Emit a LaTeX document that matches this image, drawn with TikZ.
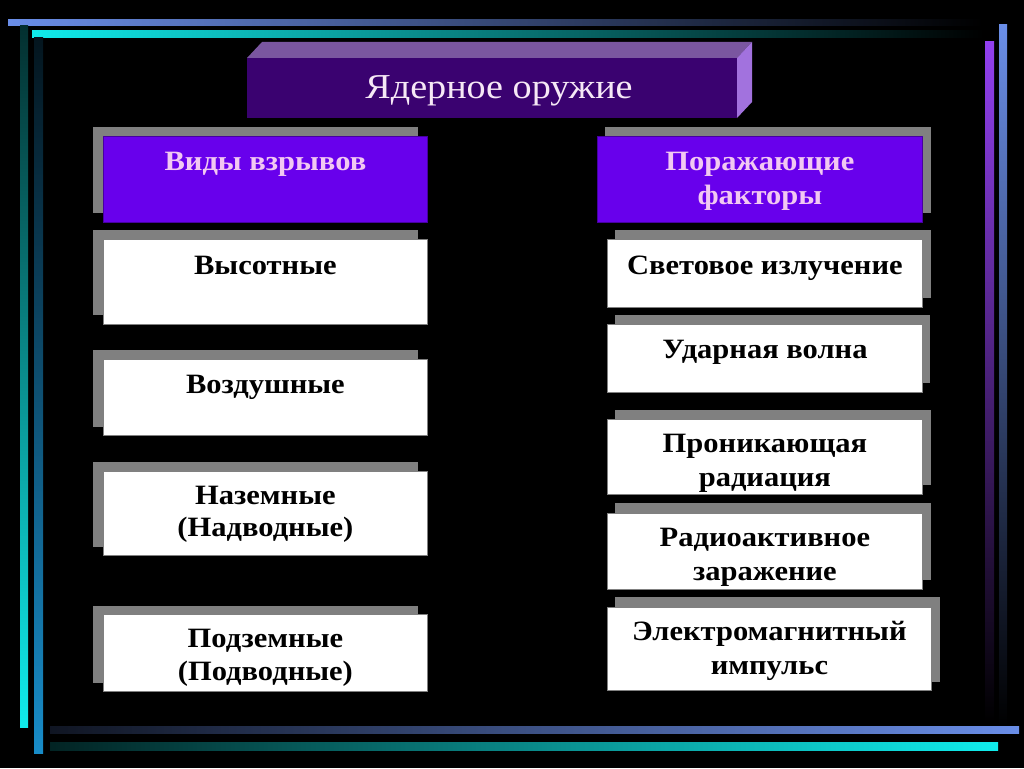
\documentclass[tikz,border=0pt]{standalone}
\usepackage{fontspec}
\setmainfont[FakeStretch=1.09]{Liberation Serif}
\definecolor{pviolet}{RGB}{104,0,236}
\definecolor{pdark}{RGB}{70,0,160}
\definecolor{shgray}{RGB}{128,128,128}
\definecolor{pinklbl}{RGB}{242,200,242}
\definecolor{hfront}{RGB}{58,2,112}
\definecolor{htop}{RGB}{122,86,160}
\definecolor{hside}{RGB}{162,114,222}
\definecolor{htext}{RGB}{246,232,246}
\definecolor{lblue}{RGB}{106,142,232}
\definecolor{lcyan}{RGB}{16,236,236}
\definecolor{mblue}{RGB}{24,140,200}
\definecolor{lpurple}{RGB}{146,64,240}
\begin{document}
\begin{tikzpicture}[x=1pt,y=-1pt,
  wbox/.style={draw=shgray, line width=0.8pt, fill=white, inner sep=0pt, anchor=north west},
  pbox/.style={draw=pdark, line width=0.8pt, fill=pviolet, inner sep=0pt, anchor=north west},
  shad/.style={fill=shgray, draw=none, inner sep=0pt, anchor=north west},
  lbl/.style={font=\fontsize{28}{33}\selectfont\bfseries, align=center, inner sep=0pt, anchor=north, text=black},
  rlbl/.style={lbl, font=\fontsize{28}{34.5}\selectfont\bfseries},
  hlbl/.style={lbl, text=pinklbl},
]
\useasboundingbox (0,0) rectangle (1024,768);
\fill[black] (0,0) rectangle (1024,768);

% frame lines
\shade[left color=lblue, right color=black] (8,20) rectangle (983,26);
\shade[left color=lcyan, right color=black] (32,31) rectangle (983,38);
\shade[top color=black!80!lcyan, bottom color=lcyan] (20,26) rectangle (28,727);
\shade[top color=black!85!mblue, bottom color=mblue] (34,38) rectangle (43,753);
\shade[top color=lpurple, bottom color=black] (985,42) rectangle (994,722);
\shade[top color=lblue, bottom color=black] (999,25) rectangle (1007,726);
\shade[left color=black!85!lblue, right color=lblue] (50,726) rectangle (1019,733);
\shade[left color=black!85!lcyan, right color=lcyan] (50,742) rectangle (998,750);

% header 3D bar
\fill[htop] (247,58) -- (262,42) -- (752,42) -- (737,58) -- cycle;
\fill[hside] (737,58) -- (752,42) -- (752,102) -- (737,118) -- cycle;
\node[fill=hfront, inner sep=0pt, anchor=north west, minimum width=490pt, minimum height=60pt] (head) at (247,58) {};
\node[font=\fontsize{35}{40}\selectfont, text=htext, anchor=base, inner sep=0pt] (headt) at (499,98) {Ядерное оружие};

% left column
\node[shad, minimum width=325pt, minimum height=86pt] (sL0) at (93,127) {};
\node[pbox, minimum width=324pt, minimum height=86pt] (L0) at (103,136) {};
\node[hlbl] (tL0) at ([yshift=-10pt]L0.north) {\rule{0pt}{24pt}Виды взрывов};

\node[shad, minimum width=325pt, minimum height=85pt] (sL1) at (93,230) {};
\node[wbox, minimum width=324pt, minimum height=85pt] (L1) at (103,239) {};
\node[lbl] (tL1) at ([yshift=-11pt]L1.north) {\rule{0pt}{24pt}Высотные};

\node[shad, minimum width=325pt, minimum height=77pt] (sL2) at (93,350) {};
\node[wbox, minimum width=324pt, minimum height=76pt] (L2) at (103,359) {};
\node[lbl] (tL2) at ([yshift=-10pt]L2.north) {\rule{0pt}{24pt}Воздушные};

\node[shad, minimum width=325pt, minimum height=85pt] (sL3) at (93,462) {};
\node[wbox, minimum width=324pt, minimum height=84pt] (L3) at (103,471) {};
\node[lbl, font=\fontsize{28}{32}\selectfont\bfseries] (tL3) at ([yshift=-9pt]L3.north) {\rule{0pt}{24pt}Наземные\\(Надводные)};

\node[shad, minimum width=325pt, minimum height=77pt] (sL4) at (93,606) {};
\node[wbox, minimum width=324pt, minimum height=77pt] (L4) at (103,614) {};
\node[lbl] (tL4) at ([yshift=-9pt]L4.north) {\rule{0pt}{24pt}Подземные\\(Подводные)};

% right column
\node[shad, minimum width=326pt, minimum height=86pt] (sR0) at (605,127) {};
\node[pbox, minimum width=325pt, minimum height=86pt] (R0) at (597,136) {};
\node[hlbl, rlbl, text=pinklbl] (tR0) at ([yshift=-10pt]R0.north) {\rule{0pt}{24pt}Поражающие\\факторы};

\node[shad, minimum width=316pt, minimum height=68pt] (sR1) at (615,230) {};
\node[wbox, minimum width=315pt, minimum height=68pt] (R1) at (607,239) {};
\node[rlbl] (tR1) at ([yshift=-11pt]R1.north) {\rule{0pt}{24pt}Световое излучение};

\node[shad, minimum width=315pt, minimum height=68pt] (sR2) at (615,315) {};
\node[wbox, minimum width=315pt, minimum height=68pt] (R2) at (607,324) {};
\node[rlbl] (tR2) at ([yshift=-10pt]R2.north) {\rule{0pt}{24pt}Ударная волна};

\node[shad, minimum width=316pt, minimum height=75pt] (sR3) at (615,410) {};
\node[wbox, minimum width=315pt, minimum height=75pt] (R3) at (607,419) {};
\node[rlbl] (tR3) at ([yshift=-9pt]R3.north) {\rule{0pt}{24pt}Проникающая\\радиация};

\node[shad, minimum width=316pt, minimum height=77pt] (sR4) at (615,503) {};
\node[wbox, minimum width=315pt, minimum height=76pt] (R4) at (607,513) {};
\node[rlbl] (tR4) at ([yshift=-9pt]R4.north) {\rule{0pt}{24pt}Радиоактивное\\заражение};

\node[shad, minimum width=325pt, minimum height=85pt] (sR5) at (615,597) {};
\node[wbox, minimum width=324pt, minimum height=83pt] (R5) at (607,607) {};
\node[rlbl] (tR5) at ([yshift=-9pt]R5.north) {\rule{0pt}{24pt}Электромагнитный\\импульс};
\end{tikzpicture}
\end{document}
